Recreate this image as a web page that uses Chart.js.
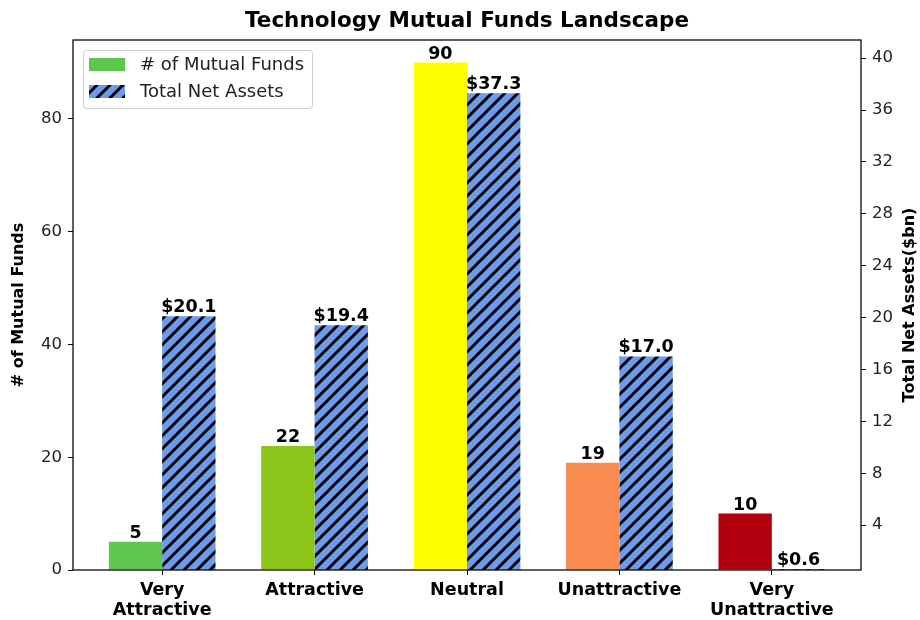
<!DOCTYPE html>
<html>
<head>
<meta charset="utf-8">
<script src="https://cdn.jsdelivr.net/npm/chart.js@4.4.0/dist/chart.umd.min.js"></script>
<style>
  html, body { margin: 0; padding: 0; background: #fff; }
  #wrap { width: 920px; height: 620px; }
</style>
</head>
<body>
<div id="wrap"><canvas id="myChart" width="920" height="620"></canvas></div>
<script>
// data
var categories = [["Very", "Attractive"], "Attractive", "Neutral", "Unattractive", ["Very", "Unattractive"]];
var fundCounts = [5, 22, 90, 19, 10];
var netAssets = [20.1, 19.4, 37.3, 17.0, 0.6];
var fundColors = ["#5ec84e", "#8cc51a", "#ffff00", "#f88b50", "#b3000f"];
var leftTicks = [0, 20, 40, 60, 80];
var rightTicks = [4, 8, 12, 16, 20, 24, 28, 32, 36, 40];

var FONT = "'DejaVu Sans', sans-serif";

// hatched fill "//" on blue
function makeHatch() {
    var s = 13;
    var c = document.createElement("canvas");
    c.width = s;
    c.height = s;
    var g = c.getContext("2d");
    g.fillStyle = "#6b9bec";
    g.fillRect(0, 0, s, s);
    g.strokeStyle = "#000";
    g.lineWidth = 3;
    [0, s, 2 * s].forEach(function (k) {
        g.beginPath();
        g.moveTo(-s, k + s);
        g.lineTo(2 * s, k - 2 * s);
        g.stroke();
    });
    return document.getElementById("myChart").getContext("2d").createPattern(c, "repeat");
}
var hatch = makeHatch();

var extras = {
    id: "extras",
    afterDraw: function (chart) {
        var ctx = chart.ctx;
        var a = chart.chartArea;
        ctx.save();

        // frame
        ctx.strokeStyle = "#000";
        ctx.lineWidth = 1.25;
        ctx.strokeRect(a.left, a.top, a.right - a.left, a.bottom - a.top);

        // title
        ctx.fillStyle = "#000";
        ctx.font = "bold 21.5px " + FONT;
        ctx.textAlign = "center";
        ctx.textBaseline = "middle";
        ctx.fillText("Technology Mutual Funds Landscape", (a.left + a.right) / 2, 21);

        // axis titles
        ctx.font = "bold 16px " + FONT;
        ctx.save();
        ctx.translate(19, (a.top + a.bottom) / 2);
        ctx.rotate(-Math.PI / 2);
        ctx.fillText("# of Mutual Funds", 0, 0);
        ctx.restore();
        ctx.save();
        ctx.translate(910, (a.top + a.bottom) / 2);
        ctx.rotate(-Math.PI / 2);
        ctx.fillText("Total Net Assets($bn)", 0, 0);
        ctx.restore();

        // value labels
        ctx.font = "bold 17.5px " + FONT;
        ctx.textBaseline = "alphabetic";
        chart.getDatasetMeta(0).data.forEach(function (bar, i) {
            ctx.fillText(String(fundCounts[i]), bar.x, bar.y - 4);
        });
        chart.getDatasetMeta(1).data.forEach(function (bar, i) {
            ctx.fillText("$" + netAssets[i].toFixed(1), bar.x, bar.y - 4);
        });

        // legend
        var lx = 83, ly = 50, lw = 229, lh = 58;
        ctx.fillStyle = "rgba(255,255,255,0.8)";
        ctx.strokeStyle = "#cccccc";
        ctx.lineWidth = 1;
        ctx.beginPath();
        ctx.roundRect(lx + 0.5, ly + 0.5, lw, lh, 3);
        ctx.fill();
        ctx.stroke();
        ctx.fillStyle = fundColors[0];
        ctx.fillRect(89, 58, 36, 13);
        ctx.fillStyle = hatch;
        ctx.fillRect(89, 85, 36, 13);
        ctx.fillStyle = "#222";
        ctx.font = "18px " + FONT;
        ctx.textAlign = "left";
        ctx.textBaseline = "middle";
        ctx.fillText(chart.data.datasets[0].label, 140, 65);
        ctx.fillText(chart.data.datasets[1].label, 140, 92);

        ctx.restore();
    }
};

var data = {
    datasets: [
        {
            label: "# of Mutual Funds",
            data: fundCounts.map(function (v, i) { return { x: i, y: v }; }),
            backgroundColor: fundColors,
            yAxisID: "y",
            categoryPercentage: 0.7,
            barPercentage: 1.0,
        },
        {
            label: "Total Net Assets",
            data: netAssets.map(function (v, i) { return { x: i, y: v }; }),
            backgroundColor: hatch,
            yAxisID: "y2",
            categoryPercentage: 0.7,
            barPercentage: 1.0,
        },
    ],
};

var config = {
    type: "bar",
    data: data,
    plugins: [extras],
    options: {
        responsive: false,
        animation: false,
        layout: { padding: { top: 40, left: 0, right: 0, bottom: 0 } },
        plugins: {
            legend: { display: false },
            title: { display: false },
            tooltip: { enabled: false },
        },
        scales: {
            x: {
                type: "linear",
                min: -0.585,
                max: 4.585,
                offset: false,
                afterBuildTicks: function (scale) {
                    scale.ticks = categories.map(function (c, i) { return { value: i }; });
                },
                afterFit: function (scale) { scale.height = 50; },
                border: { display: false },
                grid: { offset: false, drawOnChartArea: false, drawTicks: true, tickLength: 5, tickColor: "#000" },
                ticks: {
                    autoSkip: false,
                    maxRotation: 0,
                    padding: 5,
                    color: "#000",
                    font: { family: FONT, size: 17.5, weight: "bold", lineHeight: 1.15 },
                    callback: function (v) { return categories[v]; },
                },
            },
            y: {
                position: "left",
                min: 0,
                max: 94,
                afterBuildTicks: function (scale) {
                    scale.ticks = leftTicks.map(function (v) { return { value: v }; });
                },
                afterFit: function (scale) { scale.width = 73; },
                border: { display: false },
                grid: { drawOnChartArea: false, drawTicks: true, tickLength: 5, tickColor: "#000" },
                ticks: { padding: 6, color: "#222", font: { family: FONT, size: 16.5 } },
            },
            y2: {
                position: "right",
                min: 0.54,
                max: 41.4,
                afterBuildTicks: function (scale) {
                    scale.ticks = rightTicks.map(function (v) { return { value: v }; });
                },
                afterFit: function (scale) { scale.width = 59; },
                border: { display: false },
                grid: { drawOnChartArea: false, drawTicks: true, tickLength: 5, tickColor: "#000" },
                ticks: { padding: 6, color: "#222", font: { family: FONT, size: 16.5 } },
            },
        },
    },
};

var myChart = new Chart(document.getElementById("myChart"), config);
</script>
</body>
</html>
